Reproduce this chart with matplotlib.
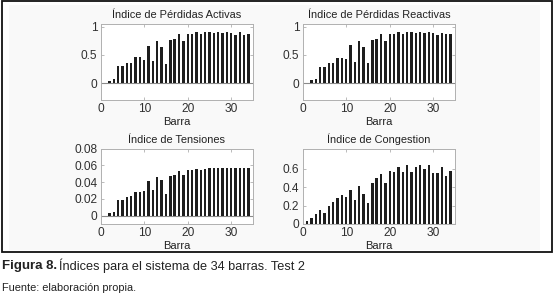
import numpy as np
import matplotlib
matplotlib.use("Agg")
import matplotlib.pyplot as plt
from matplotlib.patches import Rectangle

plt.rcParams['font.family'] = ['Liberation Sans', 'DejaVu Sans']

barras = np.arange(1, 35)

perdidas_activas = [0.0, 0.04, 0.07, 0.30, 0.30, 0.35, 0.36, 0.46, 0.46, 0.41,
                    0.66, 0.39, 0.75, 0.65, 0.34, 0.76, 0.79, 0.87, 0.74, 0.87,
                    0.87, 0.91, 0.87, 0.91, 0.91, 0.89, 0.91, 0.89, 0.91, 0.89,
                    0.85, 0.90, 0.86, 0.87]

perdidas_reactivas = [0.0, 0.05, 0.07, 0.29, 0.29, 0.35, 0.36, 0.45, 0.45, 0.42,
                      0.67, 0.38, 0.75, 0.65, 0.35, 0.76, 0.79, 0.88, 0.74, 0.88,
                      0.88, 0.91, 0.88, 0.91, 0.91, 0.89, 0.91, 0.89, 0.91, 0.89,
                      0.86, 0.89, 0.87, 0.87]

tensiones = [0.0, 0.003, 0.0045, 0.019, 0.019, 0.022, 0.023, 0.028, 0.028, 0.029,
             0.041, 0.030, 0.046, 0.042, 0.026, 0.047, 0.049, 0.053, 0.049, 0.054,
             0.054, 0.056, 0.054, 0.056, 0.057, 0.057, 0.057, 0.057, 0.057, 0.057,
             0.057, 0.057, 0.057, 0.057]

congestion = [0.03, 0.07, 0.11, 0.155, 0.12, 0.20, 0.235, 0.28, 0.32, 0.29,
              0.37, 0.26, 0.41, 0.33, 0.23, 0.45, 0.50, 0.54, 0.45, 0.58,
              0.57, 0.615, 0.56, 0.645, 0.57, 0.62, 0.645, 0.60, 0.645, 0.55,
              0.55, 0.615, 0.52, 0.58]

titles = ["Índice de Pérdidas Activas", "Índice de Pérdidas Reactivas",
          "Índice de Tensiones", "Índice de Congestion"]
xticks = [0, 10, 20, 30]
yticks_list = [[0, 0.5, 1], [0, 0.5, 1], [0, 0.02, 0.04, 0.06, 0.08], [0, 0.2, 0.4, 0.6]]
ytick_labels = [["0", "0.5", "1"], ["0", "0.5", "1"],
                ["0", "0.02", "0.04", "0.06", "0.08"], ["0", "0.2", "0.4", "0.6"]]
ylims = [(-0.3, 1.05), (-0.3, 1.05), (-0.01, 0.08), (0, 0.82)]
series = [perdidas_activas, perdidas_reactivas, tensiones, congestion]

fig = plt.figure(figsize=(5.55, 2.97), dpi=100)
fig.patch.set_facecolor('white')

# light panel + black frame
fig.add_artist(Rectangle((9/555, 1-250/297), (540-9)/555, (250-5)/297,
                         transform=fig.transFigure, facecolor='#f9f9f9',
                         edgecolor='none', zorder=0))
fig.add_artist(Rectangle((1.5/555, 1-252/297), (551.5-1.5)/555, (252-1)/297,
                         transform=fig.transFigure, facecolor='none',
                         edgecolor='#111111', linewidth=1.3, zorder=5))

positions = [
    [100.7/555, 1-100/297, 152.3/555, 76/297],
    [302.7/555, 1-100/297, 152.3/555, 76/297],
    [100.7/555, 1-224/297, 152.3/555, 75.5/297],
    [302.7/555, 1-224/297, 152.3/555, 75.5/297],
]

gray = '#b0b0b0'
txt = '#303030'
for i in range(4):
    ax = fig.add_axes(positions[i])
    ax.set_facecolor('white')
    ax.bar(barras, series[i], width=0.55, color='#1e1e1e', zorder=3)
    ax.axhline(0, color='#8a8a8a', linewidth=0.8, zorder=2)
    ax.set_xlim(0, 35)
    ax.set_ylim(*ylims[i])
    ax.set_xticks(xticks)
    ax.set_yticks(yticks_list[i])
    ax.set_yticklabels(ytick_labels[i])
    ax.tick_params(direction='in', length=2, width=0.6, color=gray,
                   labelsize=8.6, labelcolor=txt, top=True, right=True, pad=2.5)
    for s in ax.spines.values():
        s.set_color(gray)
        s.set_linewidth(0.7)
    ax.set_title(titles[i], fontsize=7.9, color='#222222', pad=4)
    ax.set_xlabel("Barra", fontsize=8, color='#222222', labelpad=1)

fig.text(0.003, 1-266/297, "Figura 8.", fontsize=9.5, fontweight='bold',
         color='#222222', va='center', ha='left')
fig.text(59/555, 1-266/297, "Índices para el sistema de 34 barras. Test 2", fontsize=9.2,
         color='#222222', va='center', ha='left')
fig.text(0.003, 1-288/297, "Fuente: elaboración propia.", fontsize=7.9,
         color='#222222', va='center', ha='left')

fig.savefig("out.png", dpi=100)
